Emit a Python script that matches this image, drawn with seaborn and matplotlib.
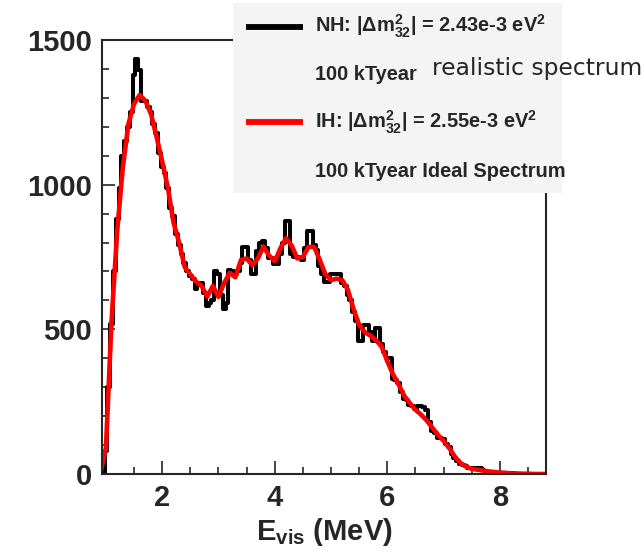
import numpy as np
import pandas as pd
import matplotlib
matplotlib.use("Agg")
import matplotlib.pyplot as plt
import seaborn as sns
from matplotlib.lines import Line2D
from matplotlib.patches import Rectangle
from matplotlib.ticker import MultipleLocator

# IH ideal spectrum (red), sampled every 0.1 MeV
ih_energy = [round(0.9 + 0.1 * i, 2) for i in range(80)]
ih_counts = [0, 90, 530, 840, 1060, 1210, 1280, 1310, 1290, 1245, 1165,
             1080, 990, 870, 800, 715, 690, 665, 650, 613, 650,
             612, 660, 695, 680, 740, 745, 722, 745, 786, 755,
             735, 780, 815, 790, 745, 750, 785, 785, 740, 690,
             670, 675, 670, 636, 570, 515, 490, 478, 462, 440,
             390, 345, 310, 270, 245, 222, 205, 185, 160, 135,
             115, 90, 60, 38, 25, 18, 15, 12, 9, 7,
             5, 4, 2, 2, 1, 1, 0, 0, 0]

# NH realistic spectrum (black), bins of 0.05 MeV
nh_energy = [round(0.95 + 0.05 * i, 2) for i in range(158)]
nh_counts = [0, 80, 300, 520, 700, 880, 990, 1100, 1150, 1200,
             1250, 1380, 1435, 1395, 1290, 1290, 1270, 1250, 1210, 1180,
             1110, 1060, 1040, 990, 920, 890, 830, 790, 760, 730,
             700, 685, 675, 640, 655, 660, 625, 580, 590, 600,
             700, 690, 620, 570, 590, 705, 700, 690, 700, 730,
             785, 785, 740, 690, 690, 770, 800, 805, 780, 745,
             745, 725, 725, 760, 800, 875, 875, 760, 750, 750,
             745, 740, 780, 840, 840, 790, 775, 720, 690, 665,
             665, 690, 690, 690, 690, 660, 650, 620, 600, 560,
             530, 460, 460, 515, 515, 490, 460, 505, 505, 450,
             420, 400, 400, 330, 325, 315, 285, 260, 255, 240,
             235, 225, 235, 235, 232, 220, 180, 150, 140, 125,
             125, 120, 105, 95, 70, 55, 45, 35, 30, 28,
             22, 20, 22, 22, 20, 15, 10, 8, 7, 6,
             5, 4, 4, 3, 3, 2, 2, 1, 1, 1,
             1, 0, 0, 0, 0, 0, 0, 0]

sns.set_style("ticks")
plt.rcParams["font.family"] = ["Liberation Sans", "DejaVu Sans"]
plt.rcParams["font.weight"] = "bold"
plt.rcParams["mathtext.fontset"] = "custom"
plt.rcParams["mathtext.rm"] = "Liberation Sans:bold"
plt.rcParams["mathtext.it"] = "Liberation Sans:bold"
plt.rcParams["mathtext.bf"] = "Liberation Sans:bold"

W, H = 644, 554
fig = plt.figure(figsize=(W / 100, H / 100), dpi=100)
ax = fig.add_axes([102 / W, 1 - 474 / H, (546 - 102) / W, (474 - 40) / H])

df_nh = pd.DataFrame({"E": nh_energy, "counts": nh_counts})
df_ih = pd.DataFrame({"E": ih_energy, "counts": ih_counts})
sns.lineplot(data=df_nh, x="E", y="counts", ax=ax, color="black", lw=2.9,
             drawstyle="steps-mid", estimator=None)
sns.lineplot(data=df_ih, x="E", y="counts", ax=ax, color="#ff0000", lw=3.3,
             estimator=None)

ax.set_xlim(0.93, 8.82)
ax.set_ylim(0, 1500)
ax.set_xticks([2, 4, 6, 8])
ax.set_yticks([0, 500, 1000, 1500])
ax.xaxis.set_minor_locator(MultipleLocator(0.5))
ax.yaxis.set_minor_locator(MultipleLocator(100))
ax.tick_params(which="both", direction="in", top=False, right=False)
ax.tick_params(which="major", length=9.5, width=1.2, labelsize=21, pad=7)
ax.tick_params(which="minor", length=5, width=1.2)
for s in ax.spines.values():
    s.set_linewidth(1.5)
    s.set_visible(True)
for lbl in ax.get_xticklabels() + ax.get_yticklabels():
    lbl.set_fontweight("bold")
ax.set_ylabel("")
ax.set_xlabel(r"E$_{\mathrm{vis}}$ (MeV)", fontsize=21, fontweight="bold", labelpad=3)


def fx(x):
    return x / W


def fy(y):
    return 1 - y / H


fig.add_artist(Rectangle((fx(233), fy(193)), (562 - 233) / W, (193 - 3) / H,
                         transform=fig.transFigure, facecolor="#f4f4f4",
                         edgecolor="none", zorder=5))
fig.add_artist(Line2D([fx(246), fx(303)], [fy(27), fy(27)], color="black",
                      lw=4.2, transform=fig.transFigure, zorder=6,
                      solid_capstyle="butt"))
fig.add_artist(Line2D([fx(246), fx(303)], [fy(122), fy(122)], color="#ff0000",
                      lw=4.2, transform=fig.transFigure, zorder=6,
                      solid_capstyle="butt"))
fs = 14.4
fig.text(fx(315), fy(32), r"NH: |Δm$^{2}_{32}$| = 2.43e-3 eV$^{2}$", fontsize=fs,
         fontweight="bold", va="baseline", zorder=7)
fig.text(fx(315), fy(80), "100 kTyear", fontsize=fs, fontweight="bold",
         va="baseline", zorder=7)
fig.text(fx(315), fy(128), r"IH: |Δm$^{2}_{32}$| = 2.55e-3 eV$^{2}$", fontsize=fs,
         fontweight="bold", va="baseline", zorder=7)
fig.text(fx(315), fy(177), "100 kTyear Ideal Spectrum", fontsize=fs,
         fontweight="bold", va="baseline", zorder=7)
fig.text(fx(432), fy(75), "realistic spectrum", fontsize=16.8, fontweight="normal",
         family=["DejaVu Sans"], va="baseline", zorder=8)

fig.savefig("out.png", dpi=100)
